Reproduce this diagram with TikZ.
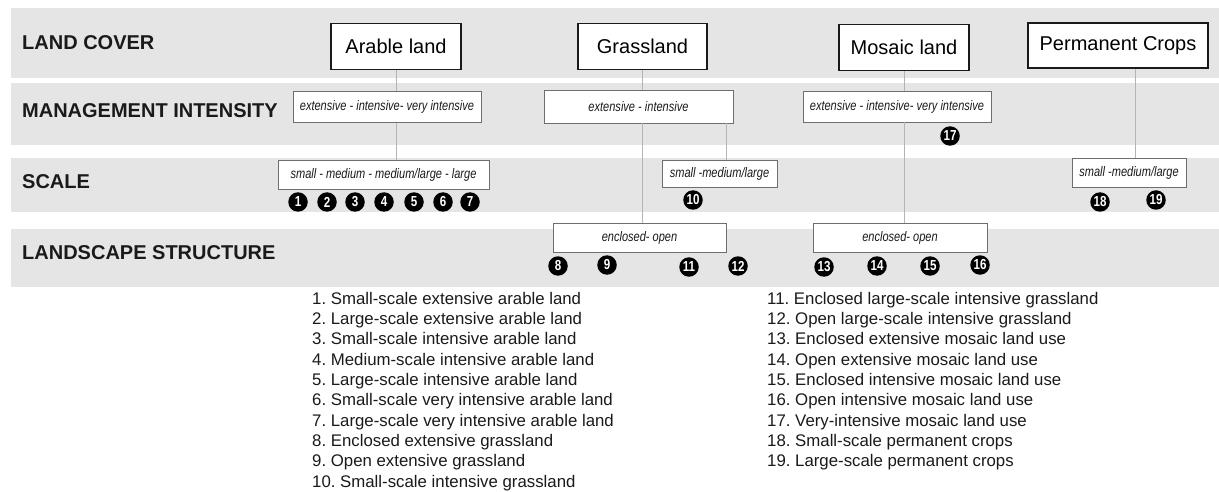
\documentclass[tikz,border=0pt]{standalone}
\usepackage{fontspec}
\setmainfont{Liberation Sans}
\newfontfamily\narrowfont[FakeStretch=0.8]{Liberation Sans}
\usetikzlibrary{positioning}
\frenchspacing

\definecolor{bandgray}{HTML}{E5E5E5}
\definecolor{linegray}{HTML}{B4B4B4}
\definecolor{boxgray}{HTML}{6E6E6E}
\definecolor{inkblack}{HTML}{1A1A1A}

\begin{document}
\begin{tikzpicture}[x=1pt, y=-1pt,
  band/.style={fill=bandgray, draw=none},
  rowlabel/.style={anchor=west, inner sep=0, text=inkblack, font=\fontsize{20}{24}\selectfont\bfseries},
  title/.style={draw=inkblack, line width=1.6pt, fill=white, inner sep=0, minimum height=46pt, font=\fontsize{20}{24}\selectfont},
  opt/.style={draw=boxgray, line width=0.8pt, fill=white, inner sep=0, text=inkblack, font=\narrowfont\itshape\fontsize{13.8}{16}\selectfont},
  num/.style={circle, fill=black, text=white, inner sep=0, minimum size=19.5pt, font=\narrowfont\bfseries\fontsize{14.5}{16}\selectfont},
  link/.style={draw=linegray, line width=0.9pt},
  legend/.style={anchor=north west, inner sep=0, align=left, text=inkblack, font=\fontsize{16.8}{20.3}\selectfont}]
  \useasboundingbox (0,0) rectangle (1219,492);

  % grey bands
  \fill[band] (11,8) rectangle (1219,78);
  \fill[band] (11,83) rectangle (1219,145);
  \fill[band] (11,158) rectangle (1219,212);
  \fill[band] (11,229) rectangle (1219,287);

  \node[rowlabel] (lcover) at (22,43) {LAND COVER};
  \node[rowlabel] (mint) at (22,111) {MANAGEMENT INTENSITY};
  \node[rowlabel] (scl) at (22,182) {SCALE};
  \node[rowlabel] (lstruct) at (22,253) {LANDSCAPE STRUCTURE};

  % land cover
  \node[title, minimum width=130pt] (arable) at (396,46.5) {Arable land};
  \node[title, minimum width=129pt] (grass) at (642.5,46.5) {Grassland};
  \node[title, minimum width=130pt] (mosaic) at (904,47.5) {Mosaic land};
  \node[title, minimum width=180pt, minimum height=45pt] (perm) at (1118,45.5) {Permanent Crops};

  % management intensity
  \node[opt, minimum width=188pt, minimum height=31pt] (armgmt) at (387,107) {extensive - intensive- very intensive};
  \node[opt, minimum width=189pt, minimum height=33pt] (grmgmt) at (638.5,106.5) {extensive - intensive};
  \node[opt, minimum width=188pt, minimum height=31pt] (momgmt) at (897,106.5) {extensive - intensive- very intensive};

  % scale
  \node[opt, minimum width=211pt, minimum height=29pt] (arscale) at (383.5,174.5) {small - medium - medium/large - large};
  \node[opt, minimum width=115pt, minimum height=27pt] (grscale) at (719.5,173.5) {small -medium/large};
  \node[opt, minimum width=114pt, minimum height=29pt] (pcscale) at (1129,172.5) {small -medium/large};

  % landscape structure
  \node[opt, minimum width=173pt, minimum height=29pt] (grland) at (639.5,237.5) {enclosed- open};
  \node[opt, minimum width=174pt, minimum height=29pt] (moland) at (900,237.5) {enclosed- open};

  \coordinate (grtap) at ([xshift=-7pt]grmgmt.south east);
  \coordinate (pctap) at ([xshift=17pt]perm.south);

  \draw[link] (arable) -- (arable |- armgmt.north);
  \draw[link] (armgmt.south -| arable) -- (arable |- arscale.north);
  \draw[link] (grass) -- (grass |- grmgmt.north);
  \draw[link] (grmgmt.south -| grass) -- (grass |- grland.north);
  \draw[link] (grtap) -- (grtap |- grscale.north);
  \draw[link] (mosaic) -- (mosaic |- momgmt.north);
  \draw[link] (momgmt.south -| mosaic) -- (mosaic |- moland.north);
  \draw[link] (pctap) -- (pctap |- pcscale.north);

  % numbered classes
  \node[num] (n1) at (298,202) {1};
  \node[num] (n2) at (327,202) {2};
  \node[num] (n3) at (355,202) {3};
  \node[num] (n4) at (384,202) {4};
  \node[num] (n5) at (414,202) {5};
  \node[num] (n6) at (443,202) {6};
  \node[num] (n7) at (470,202) {7};
  \node[num] (n8) at (558,266) {8};
  \node[num] (n9) at (607,265) {9};
  \node[num] (n10) at (693,200) {10};
  \node[num] (n11) at (689,267) {11};
  \node[num] (n12) at (738,266) {12};
  \node[num] (n13) at (824,267) {13};
  \node[num] (n14) at (877,266) {14};
  \node[num] (n15) at (930,266) {15};
  \node[num] (n16) at (980,265) {16};
  \node[num] (n17) at (950,136) {17};
  \node[num] (n18) at (1100,202) {18};
  \node[num] (n19) at (1156,200) {19};

  % key
  \node[legend] (keyleft) at (312,292) {1. Small-scale extensive arable land\\
    2. Large-scale extensive arable land\\
    3. Small-scale intensive arable land\\
    4. Medium-scale intensive arable land\\
    5. Large-scale intensive arable land\\
    6. Small-scale very intensive arable land\\
    7. Large-scale very intensive arable land\\
    8. Enclosed extensive grassland\\
    9. Open extensive grassland\\
    10. Small-scale intensive grassland};
  \node[legend] (keyright) at (767,292) {11. Enclosed large-scale intensive grassland\\
    12. Open large-scale intensive grassland\\
    13. Enclosed extensive mosaic land use\\
    14. Open extensive mosaic land use\\
    15. Enclosed intensive mosaic land use\\
    16. Open intensive mosaic land use\\
    17. Very-intensive mosaic land use\\
    18. Small-scale permanent crops\\
    19. Large-scale permanent crops};
\end{tikzpicture}
\end{document}
